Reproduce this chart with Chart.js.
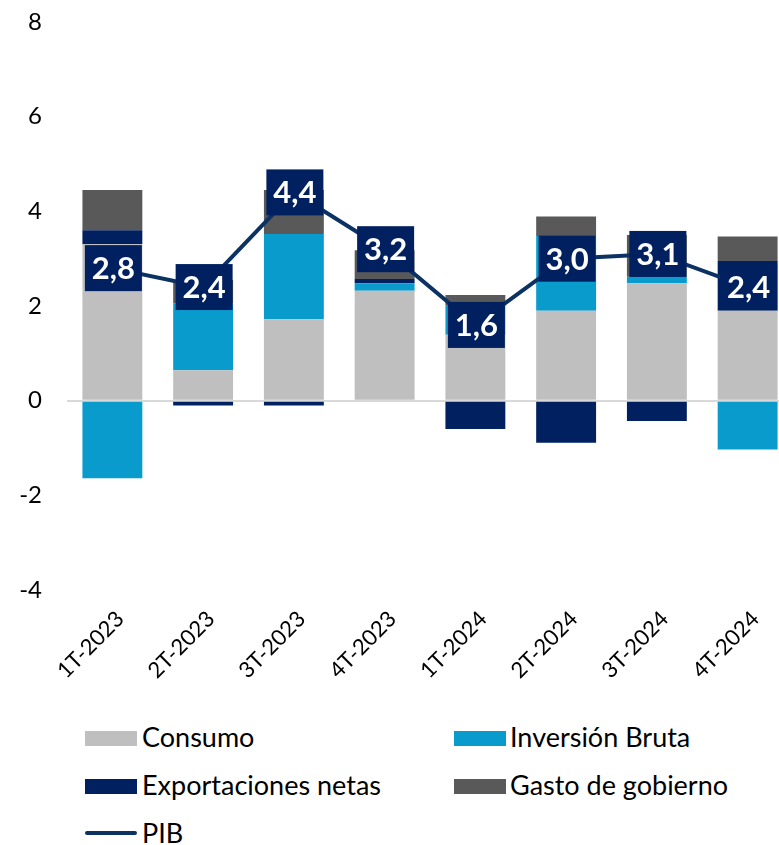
<!DOCTYPE html>
<html>
<head>
<meta charset="utf-8">
<script src="https://cdn.jsdelivr.net/npm/chart.js@4"></script>
<style>
  html, body { margin: 0; padding: 0; background: #fff; overflow: hidden; }
  #wrap { position: relative; width: 779px; height: 845px; overflow: hidden; font-family: Lato, sans-serif; }
  #box { position: absolute; left: 0; top: 0; width: 793px; height: 700px; }
  .leg { position: absolute; font-size: 27px; color: #000; line-height: 28px; white-space: nowrap; }
  .sw { position: absolute; width: 52px; height: 15px; }
</style>
</head>
<body>
<div id="wrap">
  <div id="box"><canvas id="grafico"></canvas></div>
  <div class="sw" style="left:85px;top:731px;background:#bfbfbf"></div>
  <div class="leg" style="left:142px;top:723px">Consumo</div>
  <div class="sw" style="left:454px;top:731px;background:#0a9bcd"></div>
  <div class="leg" style="left:510px;top:723px">Inversión Bruta</div>
  <div class="sw" style="left:85px;top:779px;background:#002060"></div>
  <div class="leg" style="left:142px;top:771px">Exportaciones netas</div>
  <div class="sw" style="left:454px;top:779px;background:#595959"></div>
  <div class="leg" style="left:510px;top:771px">Gasto de gobierno</div>
  <div class="sw" style="left:85px;top:831px;height:4px;border-radius:2px;background:#0c3264"></div>
  <div class="leg" style="left:142px;top:819px">PIB</div>
</div>
<script>
  // Trimestres
  const trimestres = ["1T-2023", "2T-2023", "3T-2023", "4T-2023", "1T-2024", "2T-2024", "3T-2024", "4T-2024"];

  // Contribuciones al crecimiento (puntos porcentuales)
  const consumo = [3.31, 0.64, 1.72, 2.32, 1.39, 1.90, 2.48, 1.90];
  const inversion = [-1.64, 1.42, 1.80, 0.16, 0.63, 1.58, 0.14, -1.03];
  const exportaciones = [0.29, -0.10, -0.10, 0.09, -0.60, -0.89, -0.43, 1.05];
  const gasto = [0.85, 0.49, 0.93, 0.61, 0.21, 0.41, 0.88, 0.52];
  const pib = [2.8, 2.4, 4.4, 3.2, 1.6, 3.0, 3.1, 2.4];

  const ticksY = [-4, -2, 0, 2, 4, 6, 8];

  // Etiquetas del PIB en cajas azules
  const etiquetasPib = {
    id: "etiquetasPib",
    afterDatasetsDraw(chart) {
      const ctx = chart.ctx;
      const meta = chart.getDatasetMeta(0);
      ctx.save();
      meta.data.forEach(function (pt, i) {
        const w = 57, h = 46;
        ctx.fillStyle = "#002060";
        ctx.fillRect(pt.x - w / 2 + 1, pt.y - h / 2, w, h);
        ctx.fillStyle = "#ffffff";
        ctx.font = "bold 31px Lato";
        ctx.textAlign = "center";
        ctx.textBaseline = "middle";
        ctx.fillText(pib[i].toFixed(1).replace(".", ","), pt.x + 1, pt.y + 1);
      });
      ctx.restore();
    }
  };

  const ctx = document.getElementById("grafico").getContext("2d");

  new Chart(ctx, {
    type: "bar",
    data: {
      labels: trimestres,
      datasets: [
        { type: "line", label: "PIB", data: pib, borderColor: "#0c3264", borderWidth: 4, pointRadius: 0, order: 0, stack: "pib" },
        { label: "Consumo", data: consumo, backgroundColor: "#bfbfbf", order: 1, stack: "s" },
        { label: "Inversión Bruta", data: inversion, backgroundColor: "#0a9bcd", order: 1, stack: "s" },
        { label: "Exportaciones netas", data: exportaciones, backgroundColor: "#002060", order: 1, stack: "s" },
        { label: "Gasto de gobierno", data: gasto, backgroundColor: "#595959", order: 1, stack: "s" }
      ]
    },
    options: {
      responsive: true,
      maintainAspectRatio: false,
      animation: false,
      layout: { padding: { top: 22, left: 0, right: 0, bottom: 0 } },
      datasets: { bar: { barPercentage: 0.66, categoryPercentage: 1 } },
      plugins: { legend: { display: false }, tooltip: { enabled: false } },
      scales: {
        x: {
          stacked: true,
          grid: { display: false },
          border: { display: false },
          ticks: { color: "#000", font: { family: "Lato", size: 22 }, minRotation: 45, maxRotation: 45, padding: 8, labelOffset: 8 },
          afterFit: function (scale) { scale.height = 110; }
        },
        y: {
          stacked: true,
          min: -4,
          max: 8,
          afterBuildTicks: function (scale) { scale.ticks = ticksY.map(v => ({ value: v })); },
          grid: {
            drawTicks: false,
            lineWidth: 2,
            color: function (c) { return c.tick && c.tick.value === 0 ? "#d9d9d9" : "rgba(0,0,0,0)"; }
          },
          border: { display: false },
          ticks: { color: "#000", font: { family: "Lato", size: 24 }, padding: 25 },
          afterFit: function (scale) { scale.width = 67; scale.paddingTop = 0; scale.paddingBottom = 0; }
        }
      }
    },
    plugins: [etiquetasPib]
  });
</script>
</body>
</html>
